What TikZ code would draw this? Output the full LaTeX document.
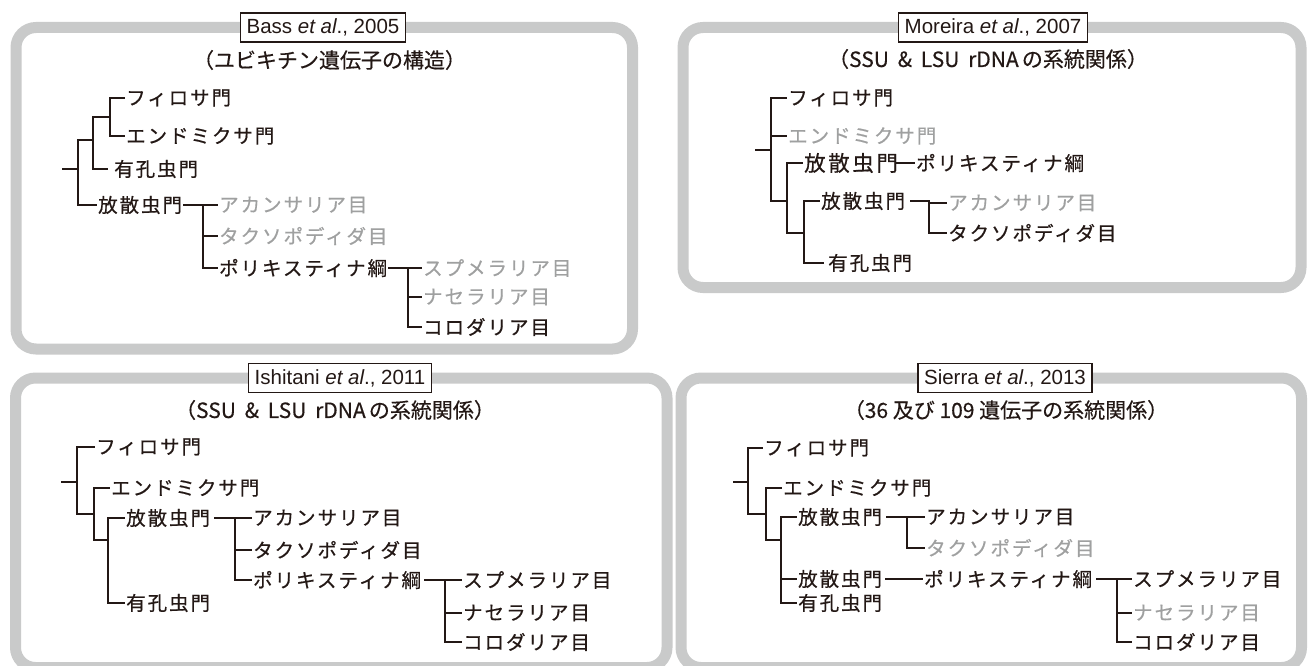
\documentclass[tikz,border=0pt]{standalone}
\usepackage{fontspec}
\setmainfont{Liberation Sans}
\newfontfamily\jptree[LetterSpace=10,FakeBold=0.6]{Noto Sans CJK JP}
\newfontfamily\jpwide[LetterSpace=12,FakeBold=0.6]{Noto Sans CJK JP}
\newfontfamily\jpsub[FakeBold=0.4]{Noto Sans CJK JP}
\definecolor{ink}{HTML}{231815}
\definecolor{grayt}{HTML}{9FA0A0}
\definecolor{framec}{HTML}{C9CACA}
\newcommand{\wsp}{\hspace{0.42em}}
\begin{document}
\begin{tikzpicture}[x=1pt,y=-1pt,
  panel/.style={draw=framec, line width=11pt, rounded corners=20pt},
  refbox/.style={draw=ink, fill=white, line width=1.3pt, font=\fontsize{20.5}{22}\selectfont, text=ink, inner xsep=6pt, minimum height=29pt},
  subt/.style={font=\jpsub\fontsize{21}{23}\selectfont, text=ink, inner sep=0pt},
  lab/.style={font=\jptree\fontsize{19.5}{21}\selectfont, text=ink, anchor=west, inner xsep=1pt, inner ysep=0pt},
  glab/.style={lab, text=grayt},
  tl/.style={draw=ink, line width=2.4pt}]
\useasboundingbox (0,0) rectangle (1309,666);

% panels
\draw[panel] (16,27.5) rectangle (632.5,349);
\draw[panel] (683,27.5) rectangle (1301,287.5);
\draw[panel] (15.5,378) rectangle (667,667.5);
\draw[panel] (681,378) rectangle (1301.5,667.5);

% reference labels
\node[refbox] (refb) at (323,27.5) {Bass \textit{et al}., 2005};
\node[refbox] (refm) at (993,27.5) {Moreira \textit{et al}., 2007};
\node[refbox] (refi) at (340,378) {Ishitani \textit{et al}., 2011};
\node[refbox] (refs) at (1005,378) {Sierra \textit{et al}., 2013};

% subtitles
\node[subt] (subb) at (329.5,60) {（ユビキチン遺伝子の構造）};
\node[subt] (subm) at (988,59) {（SSU\wsp\&\wsp LSU\wsp rDNA\hspace{0.15em}の系統関係）};
\node[subt] (subi) at (335,410) {（SSU\wsp\&\wsp LSU\wsp rDNA\hspace{0.15em}の系統関係）};
\node[subt] (subs) at (1006,410) {（36 及び 109 遺伝子の系統関係）};

% ---------------- Bass
\coordinate (b0) at (62,169);
\coordinate (bn1) at (78,169);
\coordinate (bn2) at (93,140);
\coordinate (bn3) at (110,117);
\node[lab] (bphi) at (125,98) {フィロサ門};
\node[lab] (bend) at (125,136) {エンドミクサ門};
\node[lab, inner xsep=6pt] (bfor) at (108,169) {有孔虫門};
\node[lab] (brad) at (97,205) {放散虫門};
\coordinate (bt1) at (203,205);
\node[glab] (bacan) at (218,205) {アカンサリア目};
\node[glab] (btaxo) at (218,236) {タクソポディダ目};
\node[lab] (bpoly) at (218,268) {ポリキスティナ綱};
\coordinate (bt2) at (408,268);
\node[glab] (bspu) at (422,268) {スプメラリア目};
\node[glab] (bnas) at (422,297) {ナセラリア目};
\node[lab] (bcol) at (422,327) {コロダリア目};
\draw[tl] (b0) -- (bn1);
\draw[tl] (bn1) |- (bn2);
\draw[tl] (bn1) |- (brad.west);
\draw[tl] (bn2) |- (bn3);
\draw[tl] (bn2) |- (bfor.west);
\draw[tl] (bn3) |- (bphi.west);
\draw[tl] (bn3) |- (bend.west);
\draw[tl] (brad.east) -- (bt1);
\draw[tl] (bt1) -- (bacan.west);
\draw[tl] (bt1) |- (btaxo.west);
\draw[tl] (bt1) |- (bpoly.west);
\draw[tl] (bpoly.east) -- (bt2);
\draw[tl] (bt2) -- (bspu.west);
\draw[tl] (bt2) |- (bnas.west);
\draw[tl] (bt2) |- (bcol.west);

% ---------------- Moreira
\coordinate (m0) at (755,150);
\coordinate (mn1) at (771,150);
\coordinate (mn2) at (787,201);
\coordinate (mn3) at (804,233);
\node[lab] (mphi) at (787,98) {フィロサ門};
\node[glab] (mend) at (787,136) {エンドミクサ門};
\node[lab, font=\jpwide\fontsize{21.5}{23}\selectfont] (mrad1) at (803,163) {放散虫門};
\node[lab] (mpoly) at (915,163) {ポリキスティナ綱};
\node[lab] (mrad2) at (820,201) {放散虫門};
\node[lab, inner xsep=4pt] (mfor) at (824,263) {有孔虫門};
\coordinate (mt1) at (929,203);
\node[glab] (macan) at (947,203) {アカンサリア目};
\node[lab] (mtaxo) at (947,233) {タクソポディダ目};
\draw[tl] (m0) -- (mn1);
\draw[tl] (mn1) |- (mphi.west);
\draw[tl] (mn1) |- (mend.west);
\draw[tl] (mn1) |- (mn2);
\draw[tl] (mn2) |- (mrad1.west);
\draw[tl] (mn2) |- (mn3);
\draw[tl, shorten <=-3pt] (mrad1.east) -- (mpoly.west);
\draw[tl] (mn3) |- (mrad2.west);
\draw[tl] (mn3) |- (mfor.west);
\draw[tl, shorten <=4pt] (mrad2.east) -- (mt1 |- mrad2.east) -- (mt1);
\draw[tl] (mt1) -- (macan.west);
\draw[tl] (mt1) |- (mtaxo.west);

% ---------------- Ishitani
\coordinate (i0) at (61,482);
\coordinate (in1) at (77,482);
\coordinate (in2) at (94,514);
\coordinate (in3) at (108,540);
\node[lab] (iphi) at (95,447) {フィロサ門};
\node[lab] (iend) at (110,488) {エンドミクサ門};
\node[lab] (irad) at (125,518) {放散虫門};
\node[lab] (ifor) at (125,603) {有孔虫門};
\coordinate (it1) at (235,518);
\node[lab] (iacan) at (252,518) {アカンサリア目};
\node[lab] (itaxo) at (252,550) {タクソポディダ目};
\node[lab] (ipoly) at (252,580) {ポリキスティナ綱};
\coordinate (it2) at (445,580);
\node[lab] (ispu) at (462,580) {スプメラリア目};
\node[lab] (inas) at (462,613) {ナセラリア目};
\node[lab] (icol) at (462,642) {コロダリア目};
\draw[tl] (i0) -- (in1);
\draw[tl] (in1) |- (iphi.west);
\draw[tl] (in1) |- (in2);
\draw[tl] (in2) |- (iend.west);
\draw[tl] (in2) |- (in3);
\draw[tl] (in3) |- (irad.west);
\draw[tl] (in3) |- (ifor.west);
\draw[tl, shorten <=3pt] (irad.east) -- (it1);
\draw[tl] (it1) -- (iacan.west);
\draw[tl] (it1) |- (itaxo.west);
\draw[tl] (it1) |- (ipoly.west);
\draw[tl, shorten <=2pt] (ipoly.east) -- (it2);
\draw[tl] (it2) -- (ispu.west);
\draw[tl] (it2) |- (inas.west);
\draw[tl] (it2) |- (icol.west);

% ---------------- Sierra
\coordinate (s0) at (733,482);
\coordinate (sn1) at (748,482);
\coordinate (sn2) at (766,514);
\coordinate (sn3) at (781,540);
\node[lab] (sphi) at (763,448) {フィロサ門};
\node[lab] (send) at (782,488) {エンドミクサ門};
\node[lab] (srad1) at (797,517) {放散虫門};
\node[lab] (srad2) at (797,579) {放散虫門};
\node[lab] (sfor) at (797,603) {有孔虫門};
\coordinate (st1) at (907,517);
\node[lab] (sacan) at (925,517) {アカンサリア目};
\node[glab] (staxo) at (925,548) {タクソポディダ目};
\node[lab] (spoly) at (923,579) {ポリキスティナ綱};
\coordinate (st2) at (1117,579);
\node[lab] (sspu) at (1132,579) {スプメラリア目};
\node[glab] (snas) at (1132,613) {ナセラリア目};
\node[lab] (scol) at (1132,642) {コロダリア目};
\draw[tl] (s0) -- (sn1);
\draw[tl] (sn1) |- (sphi.west);
\draw[tl] (sn1) |- (sn2);
\draw[tl] (sn2) |- (send.west);
\draw[tl] (sn2) |- (sn3);
\draw[tl] (sn3) |- (srad1.west);
\draw[tl] (sn3) |- (srad2.west);
\draw[tl] (sn3) |- (sfor.west);
\draw[tl, shorten <=3pt] (srad1.east) -- (st1);
\draw[tl] (st1) -- (sacan.west);
\draw[tl] (st1) |- (staxo.west);
\draw[tl, shorten <=2pt] (srad2.east) -- (spoly.west);
\draw[tl, shorten <=3pt] (spoly.east) -- (st2);
\draw[tl] (st2) -- (sspu.west);
\draw[tl] (st2) |- (snas.west);
\draw[tl] (st2) |- (scol.west);
\end{tikzpicture}
\end{document}
